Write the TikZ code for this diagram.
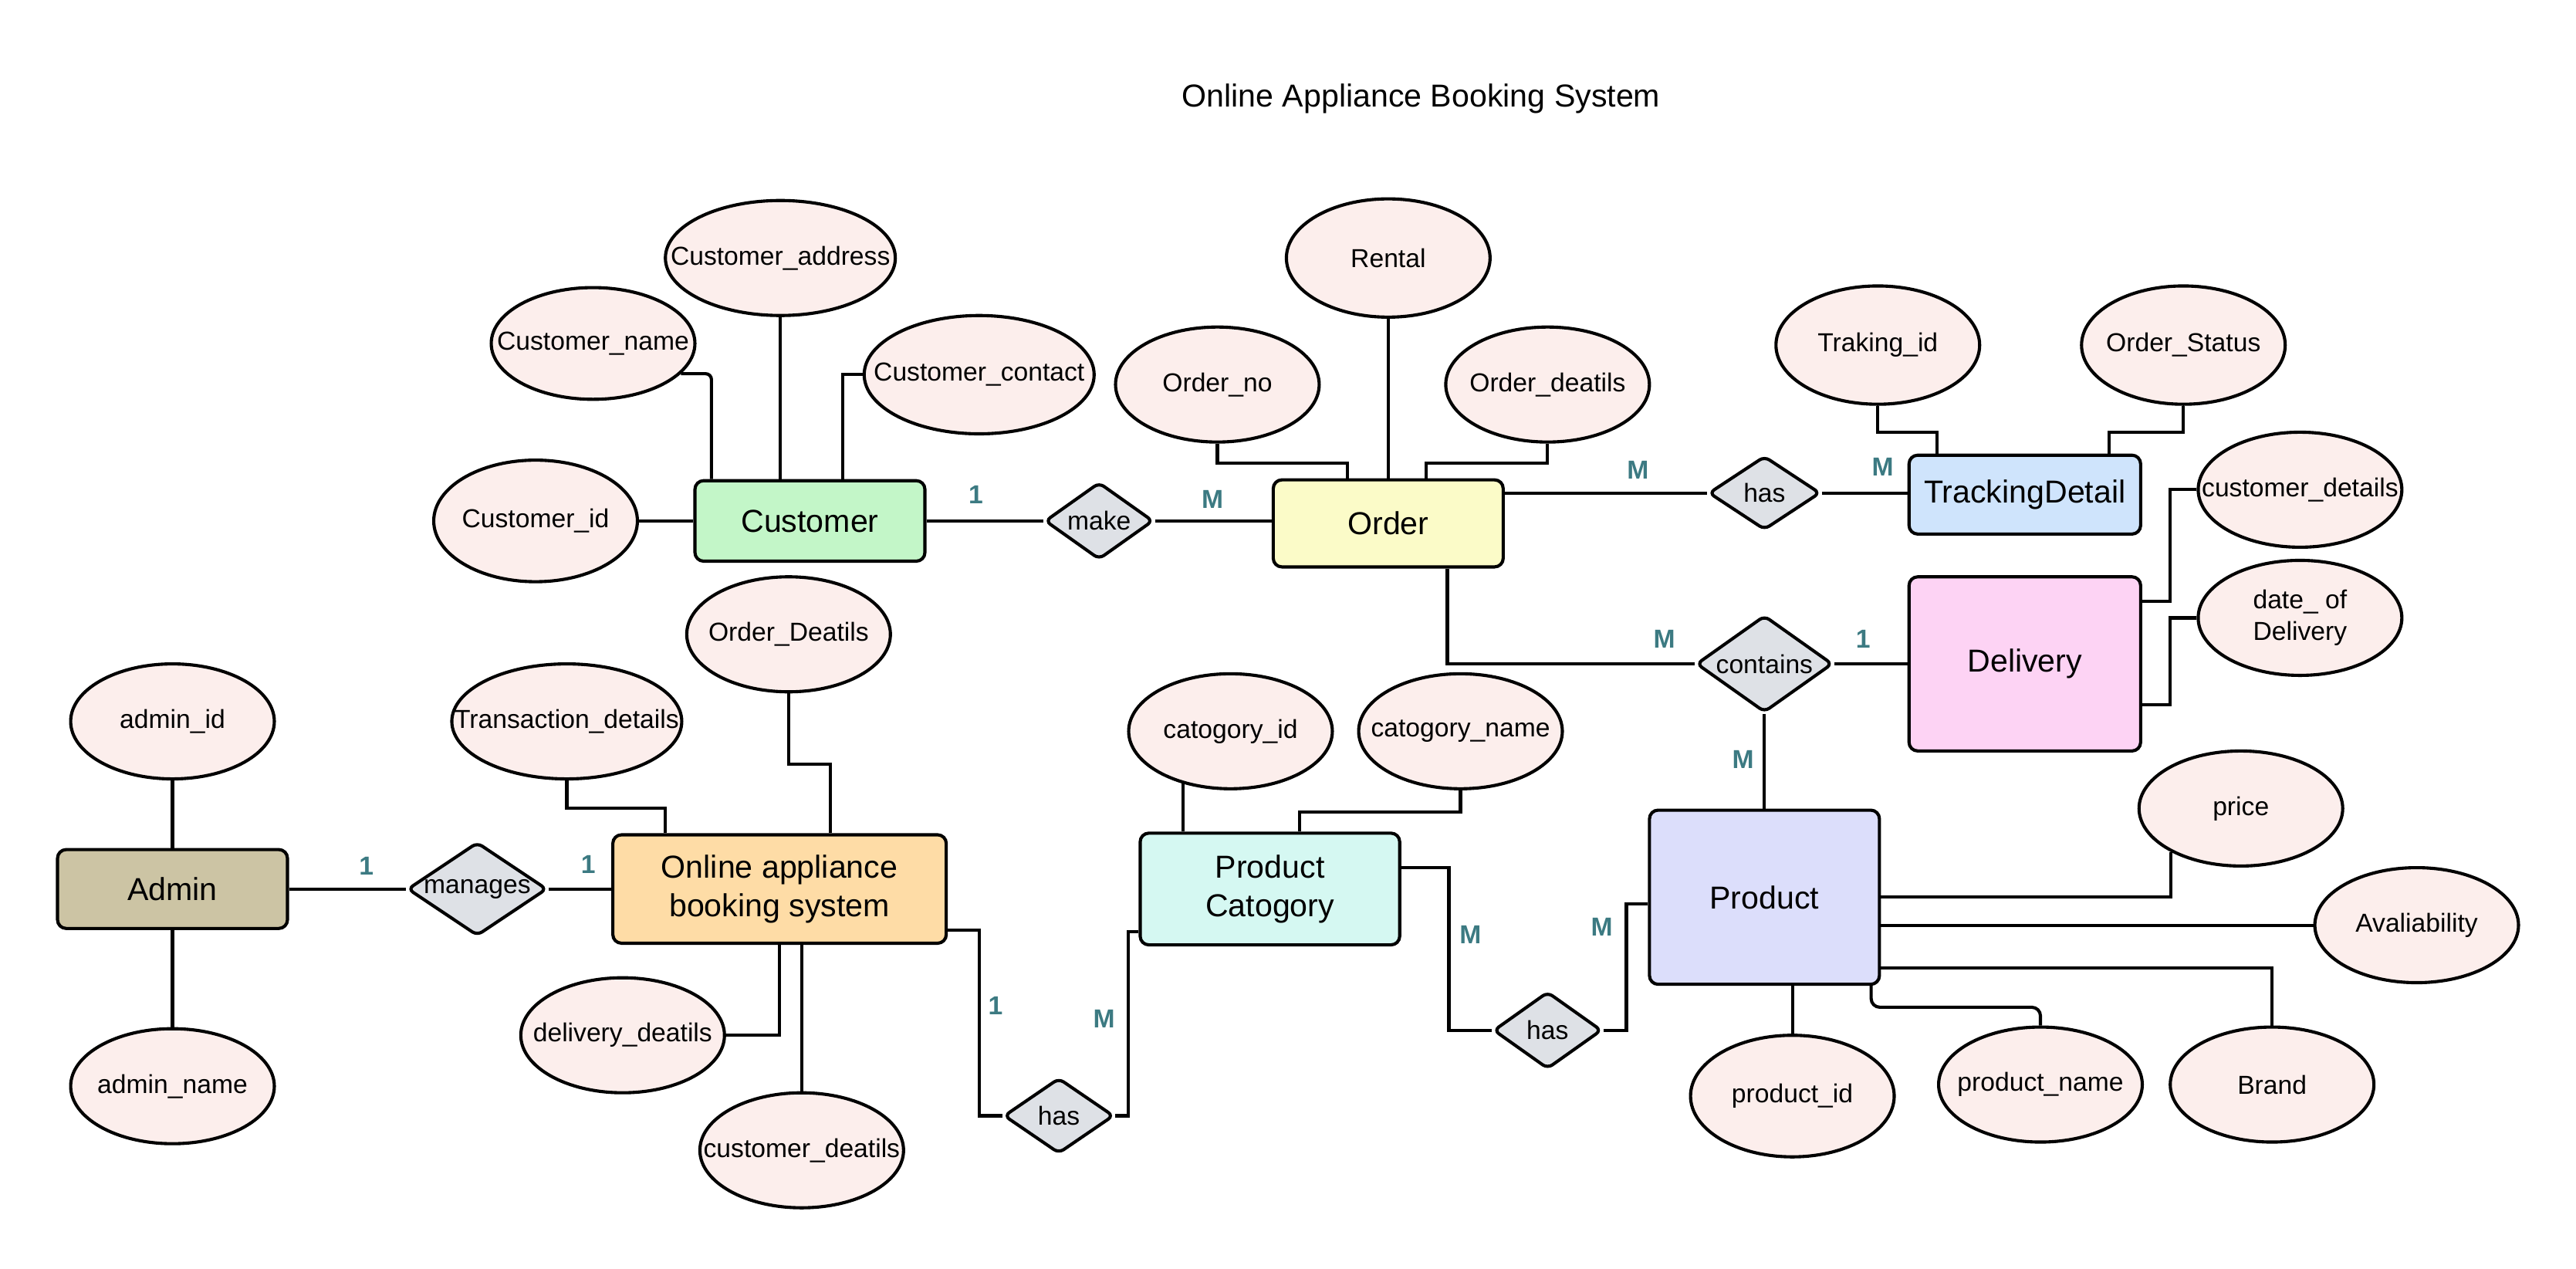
\documentclass[tikz,border=0pt]{standalone}
\usepackage{fontspec}
\setmainfont{Liberation Sans}
\usetikzlibrary{shapes.geometric,calc}

\definecolor{attrfill}{HTML}{FCEEEC}
\definecolor{relfill}{HTML}{DEE1E6}
\definecolor{custfill}{HTML}{C3F6C8}
\definecolor{orderfill}{HTML}{FBFBC8}
\definecolor{trackfill}{HTML}{CFE4FC}
\definecolor{delivfill}{HTML}{FDD3F4}
\definecolor{adminfill}{HTML}{CCC4A4}
\definecolor{sysfill}{HTML}{FEDCA6}
\definecolor{catfill}{HTML}{D5F8F2}
\definecolor{prodfill}{HTML}{DCDEFB}
\definecolor{cardcol}{HTML}{3C7A82}

\tikzset{
  entity/.style={draw, line width=1.1pt, rounded corners=3pt, align=center,
    inner sep=0pt, font=\fontsize{11}{13.5}\selectfont},
  attrib/.style={ellipse, draw, line width=1.1pt, fill=attrfill, inner ysep=0pt,
    inner xsep=-0.7cm, minimum width=2.48cm, minimum height=1.4cm, align=center,
    font=\fontsize{9}{11}\selectfont},
  rel/.style={diamond, aspect=1.45, draw, line width=1.1pt, rounded corners=2pt,
    fill=relfill, inner sep=0pt, font=\fontsize{9}{11}\selectfont},
  card/.style={text=cardcol, font=\bfseries\fontsize{9}{11}\selectfont},
  link/.style={line width=1.1pt}
}

\begin{document}
\begin{tikzpicture}[x=0.02cm, y=-0.02cm]
  \useasboundingbox (0,0) rectangle (1568,772);

  \node[font=\fontsize{11}{13}\selectfont] (title) at (865,60) {Online Appliance Booking System};

  % entities
  \node[entity, fill=custfill, minimum width=2.8cm, minimum height=0.98cm] (cust) at (493,317) {Customer};
  \node[entity, fill=orderfill, minimum width=2.8cm, minimum height=1.06cm] (order) at (845,318.5) {Order};
  \node[entity, fill=trackfill, minimum width=2.82cm, minimum height=0.96cm] (track) at (1232.5,301) {TrackingDetail};
  \node[entity, fill=delivfill, minimum width=2.82cm, minimum height=2.12cm] (deliv) at (1232.5,404) {Delivery};
  \node[entity, fill=adminfill, minimum width=2.8cm, minimum height=0.96cm] (admin) at (105,541) {Admin};
  \node[entity, fill=sysfill, minimum width=4.06cm, minimum height=1.32cm] (oabs) at (474.5,541) {Online appliance\\booking system};
  \node[entity, fill=catfill, minimum width=3.16cm, minimum height=1.36cm] (pcat) at (773,541) {Product\\Catogory};
  \node[entity, fill=prodfill, minimum width=2.8cm, minimum height=2.12cm] (prod) at (1074,546) {Product};

  % relationships
  \node[rel, minimum width=1.32cm, minimum height=0.94cm] (make) at (669,317) {make};
  \node[rel, minimum width=1.36cm, minimum height=0.9cm] (has1) at (1074,300) {has};
  \node[rel, minimum width=1.66cm, minimum height=1.18cm] (contains) at (1074,404) {contains};
  \node[rel, minimum width=1.7cm, minimum height=1.14cm] (manages) at (290.5,541) {manages};
  \node[rel, minimum width=1.34cm, minimum height=0.92cm] (has2) at (644.5,679) {has};
  \node[rel, minimum width=1.32cm, minimum height=0.94cm] (has3) at (942,627) {has};

  % attributes
  \node[attrib, minimum width=2.8cm] (caddr) at (475,157) {Customer\_address};
  \node[attrib, minimum height=1.36cm] (cname) at (361,209) {Customer\_name};
  \node[attrib, minimum width=2.8cm, minimum height=1.44cm] (ccont) at (596,228) {Customer\_contact};
  \node[attrib, minimum height=1.48cm] (cid) at (326,317) {Customer\_id};
  \node[attrib, minimum height=1.44cm] (rental) at (845,157) {Rental};
  \node[attrib] (ordno) at (741,234) {Order\_no};
  \node[attrib] (orddet) at (942,234) {Order\_deatils};
  \node[attrib, minimum height=1.44cm] (trkid) at (1143,210) {Traking\_id};
  \node[attrib, minimum height=1.44cm] (ordstat) at (1329,210) {Order\_Status};
  \node[attrib] (custdet) at (1400,298) {customer\_details};
  \node[attrib] (datedel) at (1400,376) {date\_ of\\Delivery};
  \node[attrib] (admid) at (105,439) {admin\_id};
  \node[attrib] (admname) at (105,661) {admin\_name};
  \node[attrib, minimum width=2.8cm] (transdet) at (345,439) {Transaction\_details};
  \node[attrib] (orddeat) at (480,386) {Order\_Deatils};
  \node[attrib] (delivdet) at (379,630) {delivery\_deatils};
  \node[attrib] (custdeat) at (488,700) {customer\_deatils};
  \node[attrib] (catid) at (749,445) {catogory\_id};
  \node[attrib] (catname) at (889,445) {catogory\_name};
  \node[attrib] (price) at (1364,492) {price};
  \node[attrib] (avail) at (1471,563) {Avaliability};
  \node[attrib, minimum height=1.48cm] (prodid) at (1091,667) {product\_id};
  \node[attrib] (prodname) at (1242,660) {product\_name};
  \node[attrib] (brand) at (1383,660) {Brand};

  % attribute links
  \draw[link] (caddr.south) -- (caddr.south |- cust.north);
  \draw[link, rounded corners=2pt] (cname.-19) -| ($(cust.north west)+(11,0)$);
  \draw[link] (ccont.west) -| ($(cust.north east)+(-51,0)$);
  \draw[link] (cid.east) -- (cust.west);
  \draw[link] (rental.south) -- (order.north);
  \draw[link] (ordno.south) -- ++(0,12) -| ($(order.north)+(-25,0)$);
  \draw[link] (orddet.south) -- ++(0,12) -| ($(order.north)+(23,0)$);
  \draw[link] (trkid.south) -- ++(0,16) -| ($(track.north west)+(18,0)$);
  \draw[link] (ordstat.south) -- ++(0,16) -| ($(track.north east)+(-20,0)$);
  \draw[link] (custdet.west) -- ++(-16,0) |- ($(deliv.north east)+(0,16)$);
  \draw[link] (datedel.west) -- ++(-16,0) |- ($(deliv.south east)+(0,-29)$);
  \draw[link] (admid.south) -- (admin.north);
  \draw[link] (admin.south) -- (admname.north);
  \draw[link] (transdet.south) -- ++(0,17) -| ($(oabs.north west)+(33,0)$);
  \draw[link] (orddeat.south) -- ++(0,43) -| ($(oabs.north)+(31,0)$);
  \draw[link] (delivdet.east) -| (oabs.south);
  \draw[link] (custdeat.north) -- (custdeat.north |- oabs.south);
  \draw[link] (catid.-132) -- (catid.-132 |- pcat.north);
  \draw[link] (catname.south) -- ++(0,13) -| ($(pcat.north)+(18,0)$);
  \draw[link] (prod.east) -| (price.-148);
  \draw[link] (prod.east |- avail.west) -- (avail.west);
  \draw[link] ($(prod.south east)+(0,-11)$) -| (brand.north);
  \draw[link, rounded corners=3pt] ($(prod.south east)+(-6,0)$) -- ++(0,13) -| (prodname.north);
  \draw[link] (prodid.north) -- (prodid.north |- prod.south);

  % relationship links
  \draw[link] (cust.east) -- (make.west);
  \draw[link] (make.east) -- (make.east -| order.west);
  \draw[link] (order.east |- has1.west) -- (has1.west);
  \draw[link] (has1.east) -- (has1.east -| track.west);
  \draw[link] ($(order.south)+(36,0)$) |- (contains.west);
  \draw[link] (contains.east) -- (deliv.west);
  \draw[link] (contains.south) -- (prod.north);
  \draw[link] (admin.east) -- (manages.west);
  \draw[link] (manages.east) -- (oabs.west);
  \draw[link] ($(oabs.south east)+(0,-9)$) -- ++(19,0) |- (has2.west);
  \draw[link] (has2.east) -- ++(8,0) |- ($(pcat.south west)+(0,-9)$);
  \draw[link] ($(pcat.north east)+(0,22)$) -- ++(29,0) |- (has3.west);
  \draw[link] (has3.east) -- ++(14,0) |- ($(prod.north west)+(0,58)$);

  % cardinalities
  \node[card] (k1) at (594,301) {1};
  \node[card] (k2) at (738,304) {M};
  \node[card] (k3) at (997,286) {M};
  \node[card] (k4) at (1146,284) {M};
  \node[card] (k5) at (1013,389) {M};
  \node[card] (k6) at (1134,389) {1};
  \node[card] (k7) at (1061,462) {M};
  \node[card] (k8) at (223,527) {1};
  \node[card] (k9) at (358,526) {1};
  \node[card] (k10) at (606,612) {1};
  \node[card] (k11) at (672,620) {M};
  \node[card] (k12) at (895,569) {M};
  \node[card] (k13) at (975,564) {M};
\end{tikzpicture}
\end{document}
